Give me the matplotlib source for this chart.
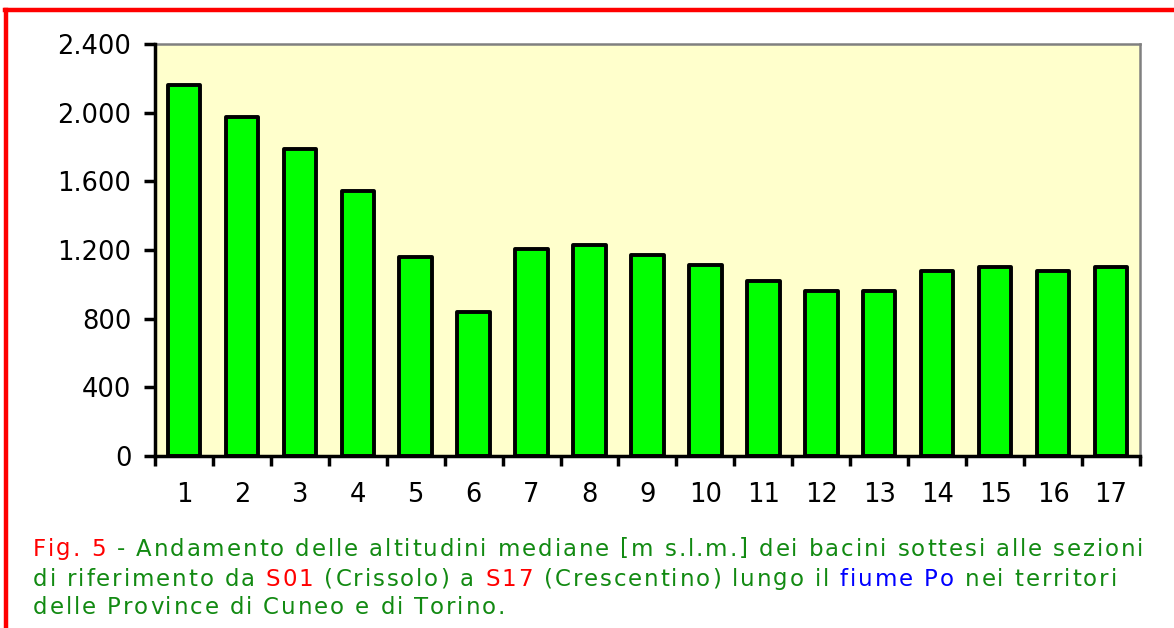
import numpy as np
import matplotlib.pyplot as plt
from matplotlib.lines import Line2D
from matplotlib.font_manager import FontProperties

# altitudini mediane [m s.l.m.] per sezione S01..S17
sezioni = [str(i) for i in range(1, 18)]
altitudini = [2160, 1975, 1790, 1545, 1160, 838, 1207, 1230, 1172,
              1113, 1020, 962, 962, 1078, 1102, 1078, 1102]
yticks = [0, 400, 800, 1200, 1600, 2000, 2400]
ytick_labels = ["0", "400", "800", "1.200", "1.600", "2.000", "2.400"]

fig = plt.figure(figsize=(11.74, 6.28), dpi=100)
ax = fig.add_axes([0.1320, 0.2739, 0.8390, 0.6560])

x = np.arange(1, len(sezioni) + 1)
bars = ax.bar(x, altitudini, width=0.56, color="#00ff00", edgecolor="black",
              linewidth=2.8, zorder=3)
for b in bars:
    b.set_joinstyle("round")

ax.set_facecolor("#ffffcc")
ax.set_xlim(0.5, len(sezioni) + 0.5)
ax.set_ylim(0, 2400)

ax.set_yticks(yticks)
ax.set_yticklabels(ytick_labels)
ax.tick_params(axis="y", length=8, width=2.5, pad=9, labelsize=18.5, color="black")

# tacche sui confini delle categorie, etichette al centro
ax.set_xticks(np.arange(0.5, len(sezioni) + 1, 1))
ax.set_xticklabels([])
ax.set_xticks(x, minor=True)
ax.set_xticklabels(sezioni, minor=True)
ax.tick_params(axis="x", which="major", length=7, width=2.5, color="black")
ax.tick_params(axis="x", which="minor", length=0, pad=19, labelsize=18.5)

for s in ["left", "bottom"]:
    ax.spines[s].set_linewidth(2.5)
    ax.spines[s].set_color("black")
    ax.spines[s].set_zorder(4)
for s in ["top", "right"]:
    ax.spines[s].set_linewidth(1.8)
    ax.spines[s].set_color("#808080")

# cornice rossa (visibili solo lato alto e sinistro)
fig.add_artist(Line2D([0.004, 1.0], [1 - 9.5 / 628, 1 - 9.5 / 628],
                      transform=fig.transFigure, color="red", lw=3.2))
fig.add_artist(Line2D([6 / 1174, 6 / 1174], [0, 1 - 9.5 / 628],
                      transform=fig.transFigure, color="red", lw=3.2))

# didascalia multicolore
verde = "#128a12"
righe = [
    [("Fig. 5", "red"), (" - Andamento delle altitudini mediane [m s.l.m.] dei bacini sottesi alle sezioni", verde)],
    [("di riferimento da ", verde), ("S01", "red"), (" (Crissolo) a ", verde), ("S17", "red"),
     (" (Crescentino) lungo il ", verde), ("fiume Po", "blue"), (" nei territori", verde)],
    [("delle Province di Cuneo e di Torino.", verde)],
]
fp = FontProperties(family="DejaVu Sans", size=16.5)
renderer = fig.canvas.get_renderer()


def larghezza(s):
    w1, _, _ = renderer.get_text_width_height_descent(s + "|", fp, ismath=False)
    w0, _, _ = renderer.get_text_width_height_descent("|", fp, ismath=False)
    return w1 - w0


spaziatura = 1.9  # spaziatura extra tra le lettere, in pixel
y_righe = [549, 579, 608]
for riga, yp in zip(righe, y_righe):
    xp = 33.0
    for testo, col in riga:
        for c in testo:
            if c != " ":
                fig.text(xp / 1174, 1 - yp / 628, c, color=col, fontproperties=fp,
                         va="center", ha="left")
            xp += larghezza(c) + spaziatura

fig.savefig("out.png", dpi=100)
